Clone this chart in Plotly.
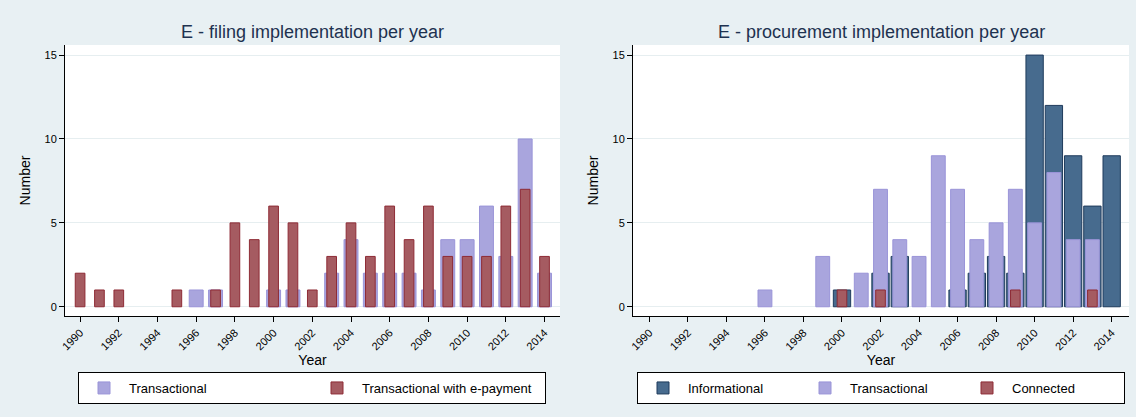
import plotly.graph_objects as go

# ---- data ----
years = list(range(1990, 2015))

# E-filing
filing_transactional = [0,0,0,0,0,0,1,1,0,0,1,1,0,2,4,2,2,2,1,4,4,6,3,10,2]
filing_epayment      = [2,1,1,0,0,1,0,1,5,4,6,5,1,3,5,3,6,4,6,3,3,3,6,7,3]

# E-procurement
proc_informational = [0,0,0,0,0,0,0,0,0,0,1,0,2,3,0,0,1,2,3,2,15,12,9,6,9]
proc_transactional = [0,0,0,0,0,0,1,0,0,3,0,2,7,4,3,9,7,4,5,7,5,8,4,4,0]
proc_connected     = [0,0,0,0,0,0,0,0,0,0,1,0,1,0,0,0,0,0,0,1,0,0,0,1,0]

titles = ["E - filing implementation per year", "E - procurement implementation per year"]
tick_years = list(range(1990, 2015, 2))

# ---- styles ----
BG = "#e8f0f3"
GRID = "#e6eef0"
C_TRANS = "rgba(169,165,221,1)"
C_TRANS_L = "#9a94d8"
C_RED = "rgba(165,91,97,1)"
C_RED_L = "#8e2b35"
C_BLUE = "#476b8e"
C_BLUE_L = "#1f3b5c"
FONT = "Liberation Sans, Arial, sans-serif"

fig = go.Figure()

def mask(vals):
    return [v if v > 0 else None for v in vals]

# Left chart
fig.add_trace(go.Bar(x=years, y=mask(filing_transactional), width=0.72, name="Transactional",
                     marker=dict(color=C_TRANS, line=dict(color=C_TRANS_L, width=1)),
                     xaxis="x", yaxis="y", legend="legend"))
fig.add_trace(go.Bar(x=years, y=mask(filing_epayment), width=0.5, name="Transactional with e-payment",
                     marker=dict(color=C_RED, line=dict(color=C_RED_L, width=1)),
                     xaxis="x", yaxis="y", legend="legend"))

# Right chart
fig.add_trace(go.Bar(x=years, y=mask(proc_informational), width=0.9, name="Informational",
                     marker=dict(color=C_BLUE, line=dict(color=C_BLUE_L, width=1)),
                     xaxis="x2", yaxis="y2", legend="legend2"))
fig.add_trace(go.Bar(x=years, y=mask(proc_transactional), width=0.72, name="Transactional",
                     marker=dict(color=C_TRANS, line=dict(color=C_TRANS_L, width=1)),
                     xaxis="x2", yaxis="y2", legend="legend2"))
fig.add_trace(go.Bar(x=years, y=mask(proc_connected), width=0.5, name="Connected",
                     marker=dict(color=C_RED, line=dict(color=C_RED_L, width=1)),
                     xaxis="x2", yaxis="y2", legend="legend2"))

ydom = [1 - 316/417, 1 - 45/417]
xaxis_common = dict(
    tickmode="array", tickvals=tick_years, ticktext=[str(t) for t in tick_years],
    tickangle=-45, ticks="outside", ticklen=5, tickcolor="black",
    showline=True, linecolor="black", linewidth=1, showgrid=False, zeroline=False,
    tickfont=dict(size=11, color="black", family=FONT),
    title=dict(text="Year", font=dict(size=14, color="black", family=FONT), standoff=2),
    automargin=False,
)
yaxis_common = dict(
    range=[-0.55, 15.6], tickvals=[0, 5, 10, 15], ticks="outside", ticklen=5, tickcolor="black",
    showline=True, linecolor="black", linewidth=1, showgrid=True, gridcolor=GRID, gridwidth=1,
    zeroline=False, tickfont=dict(size=11, color="black", family=FONT),
    title=dict(text="Number", font=dict(size=14, color="black", family=FONT), standoff=10),
    automargin=False,
)

fig.update_layout(
    width=1136, height=417,
    margin=dict(l=0, r=0, t=0, b=0, autoexpand=False),
    paper_bgcolor=BG, plot_bgcolor="white",
    barmode="overlay",
    font=dict(family=FONT, color="black"),
    xaxis=dict(xaxis_common, domain=[65/1136, 560/1136], range=[1989.22, 2014.8], anchor="y"),
    yaxis=dict(yaxis_common, domain=ydom, anchor="x"),
    xaxis2=dict(xaxis_common, domain=[633/1136, 1129/1136], range=[1989.15, 2014.9], anchor="y2"),
    yaxis2=dict(yaxis_common, domain=ydom, anchor="x2"),
    legend=dict(orientation="h", x=312/1136, xanchor="center", y=1 - 372/417, yanchor="top",
                bgcolor="white", bordercolor="black", borderwidth=1,
                font=dict(size=13, color="black", family=FONT), entrywidth=178, itemwidth=40,
                traceorder="normal"),
    legend2=dict(orientation="h", x=881/1136, xanchor="center", y=1 - 372/417, yanchor="top",
                 bgcolor="white", bordercolor="black", borderwidth=1,
                 font=dict(size=13, color="black", family=FONT), entrywidth=107, itemwidth=40,
                 traceorder="normal"),
    showlegend=True,
    annotations=[
        dict(text=titles[0], x=312/1136, y=1 - 32/417, xref="paper", yref="paper",
             xanchor="center", yanchor="middle", showarrow=False,
             font=dict(size=18, color="#1e3250", family=FONT)),
        dict(text=titles[1], x=881/1136, y=1 - 32/417, xref="paper", yref="paper",
             xanchor="center", yanchor="middle", showarrow=False,
             font=dict(size=18, color="#1e3250", family=FONT)),
    ],
)

fig.write_html("out.html", config={"displayModeBar": False},
               post_script="document.body.style.margin='0';document.body.style.background='%s';" % BG)
